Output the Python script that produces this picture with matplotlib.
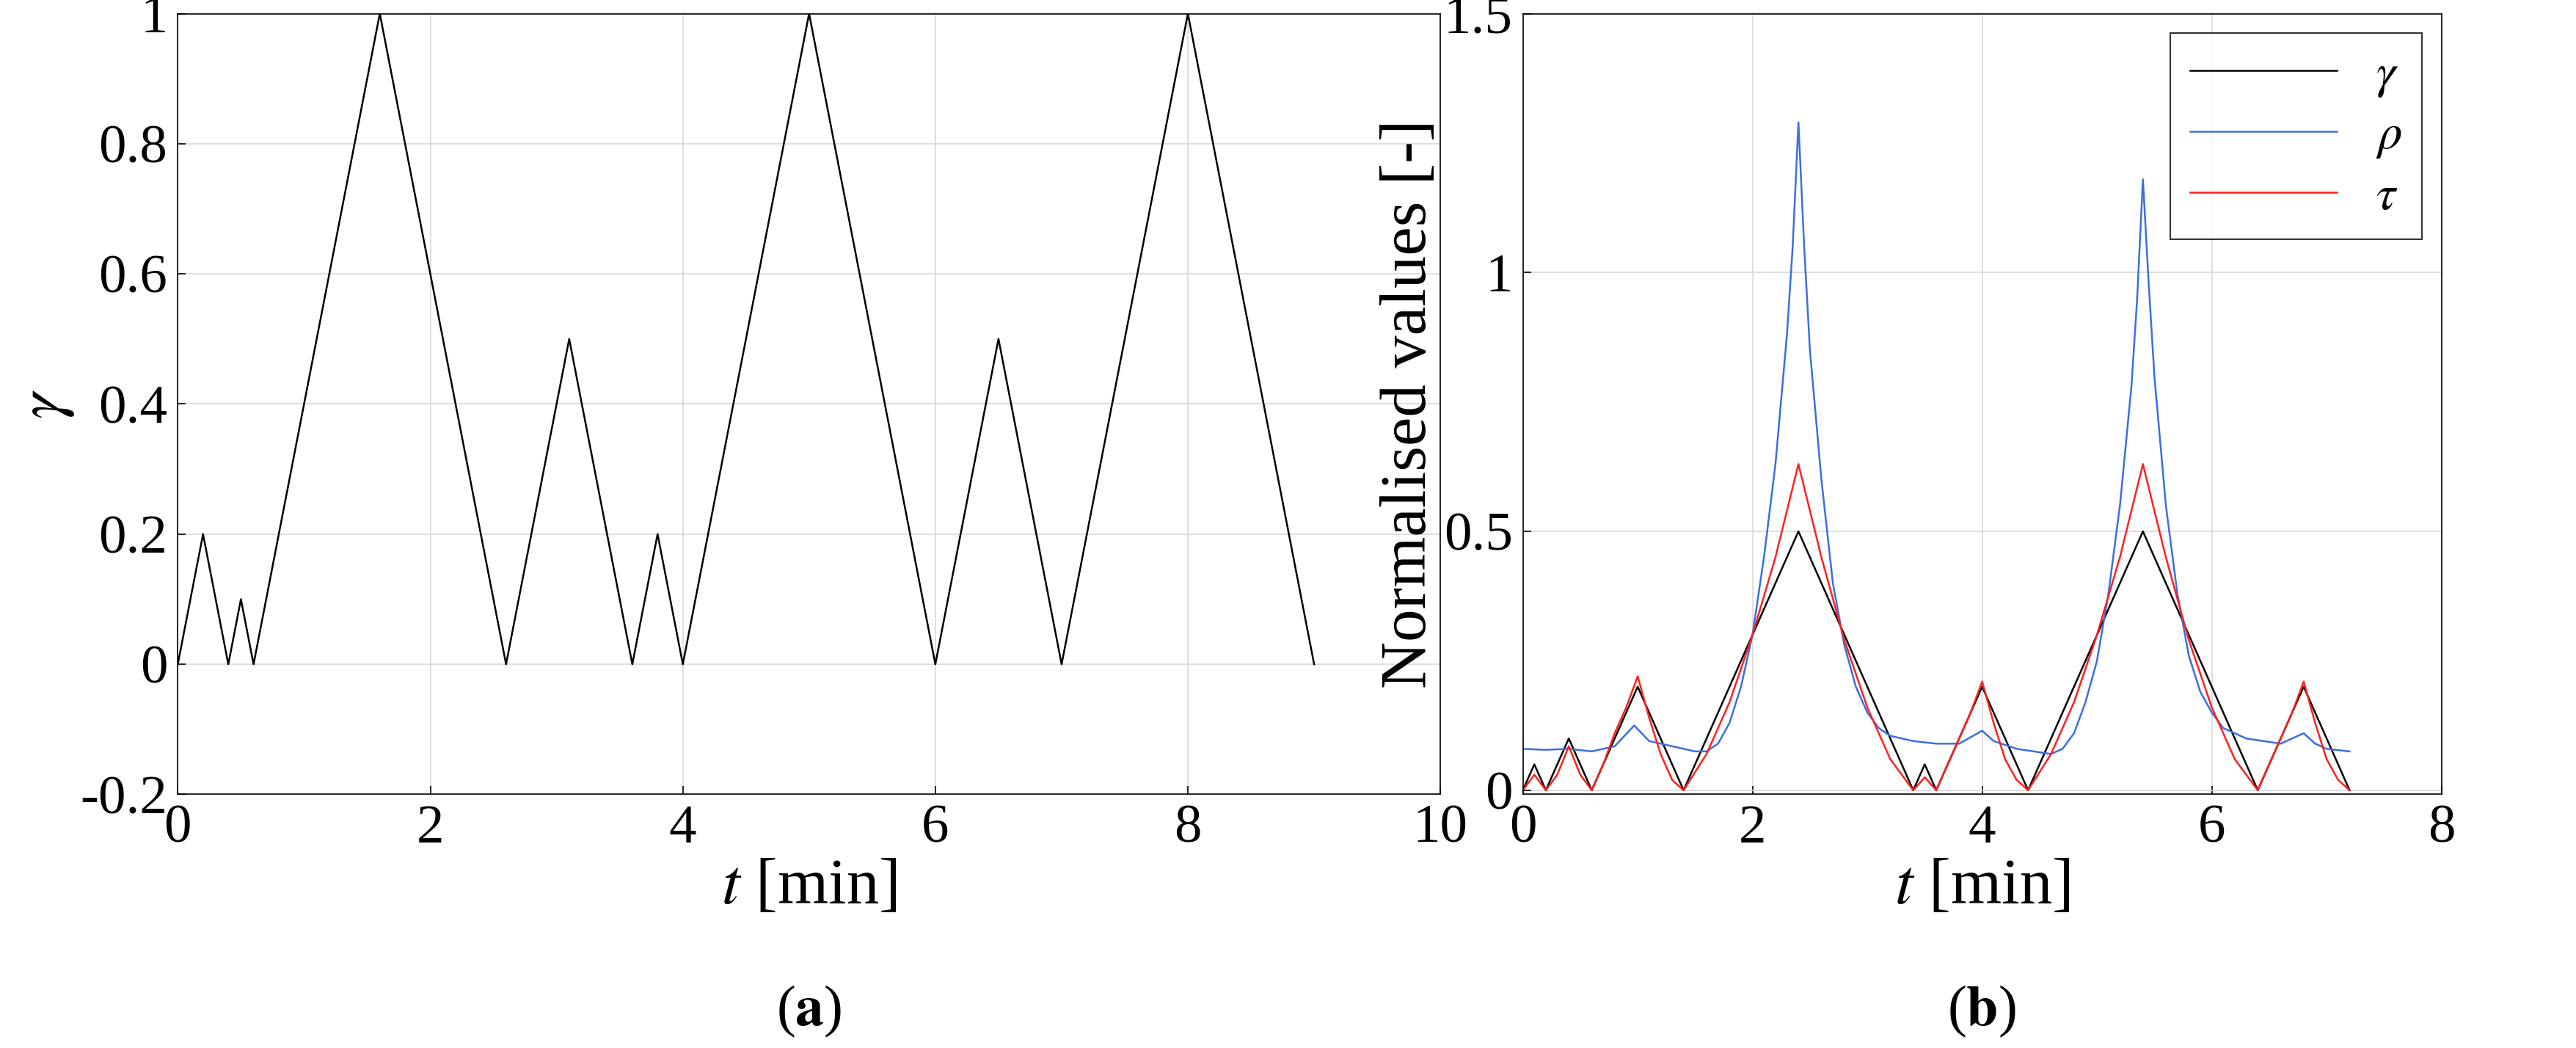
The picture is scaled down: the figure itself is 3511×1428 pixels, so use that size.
import numpy as np
import matplotlib.pyplot as plt

plt.rcParams['font.family'] = ['Liberation Serif', 'DejaVu Serif']
plt.rcParams['mathtext.fontset'] = 'stix'

# --- (a) strain history ---
t_a = [0, 0.2, 0.4, 0.5, 0.6, 1.6, 2.6, 3.1, 3.6, 3.8, 4.0, 5.0, 6.0, 6.5, 7.0, 8.0, 9.0]
gamma_a = [0, 0.2, 0, 0.1, 0, 1, 0, 0.5, 0, 0.2, 0, 1, 0, 0.5, 0, 1, 0]

# --- (b) normalised values ---
t_g = [0, 0.1, 0.2, 0.4, 0.6, 1.0, 1.4, 2.4, 3.4, 3.5, 3.6, 4.0, 4.4, 5.4, 6.4, 6.8, 7.2]
gamma_b = [0, 0.05, 0, 0.1, 0, 0.2, 0, 0.5, 0, 0.05, 0, 0.2, 0, 0.5, 0, 0.2, 0]

t_tau = [0, 0.1, 0.2, 0.3, 0.4, 0.5, 0.6, 0.7, 0.8, 0.9, 1.0, 1.1, 1.2, 1.3, 1.4,
         1.6, 1.8, 2.0, 2.2, 2.4, 2.6, 2.8, 3.0, 3.2, 3.4, 3.5, 3.6, 3.7, 3.8, 3.9, 4.0,
         4.1, 4.2, 4.3, 4.4, 4.6, 4.8, 5.0, 5.2, 5.4, 5.6, 5.8, 6.0, 6.2, 6.4,
         6.5, 6.6, 6.7, 6.8, 6.9, 7.0, 7.1, 7.2]
tau = [0, 0.03, 0, 0.03, 0.085, 0.03, 0, 0.05, 0.11, 0.16, 0.22, 0.14, 0.07, 0.02, 0,
       0.07, 0.17, 0.3, 0.45, 0.63, 0.45, 0.29, 0.16, 0.06, 0, 0.025, 0, 0.05, 0.1, 0.15, 0.21,
       0.13, 0.06, 0.02, 0, 0.07, 0.17, 0.3, 0.45, 0.63, 0.45, 0.29, 0.16, 0.06, 0,
       0.05, 0.1, 0.15, 0.21, 0.13, 0.06, 0.02, 0]

t_rho = [0, 0.2, 0.4, 0.6, 0.8, 0.97, 1.1, 1.3, 1.5, 1.6, 1.7, 1.8, 1.9, 2.0, 2.1, 2.2, 2.3, 2.35, 2.4,
         2.45, 2.5, 2.6, 2.7, 2.8, 2.9, 3.0, 3.1, 3.2, 3.4, 3.6, 3.8, 4.0, 4.1, 4.3, 4.6, 4.7, 4.8, 4.9,
         5.0, 5.1, 5.2, 5.3, 5.35, 5.4, 5.45, 5.5, 5.6, 5.7, 5.8, 5.9, 6.0, 6.1, 6.3, 6.6, 6.8, 6.9, 7.0, 7.2]
rho = [0.08, 0.078, 0.08, 0.075, 0.085, 0.125, 0.095, 0.085, 0.075, 0.075, 0.09, 0.13, 0.2, 0.3, 0.45, 0.63, 0.88, 1.05, 1.29,
       1.05, 0.85, 0.6, 0.4, 0.28, 0.2, 0.15, 0.12, 0.105, 0.095, 0.09, 0.09, 0.115, 0.095, 0.08, 0.07, 0.08, 0.11, 0.17,
       0.25, 0.38, 0.55, 0.78, 0.95, 1.18, 0.98, 0.8, 0.55, 0.38, 0.26, 0.19, 0.15, 0.12, 0.1, 0.09, 0.11, 0.09, 0.08, 0.075]

fig = plt.figure(figsize=(35.12, 14.28), dpi=100)
ax1 = fig.add_axes([0.069, 0.242, 0.49, 0.745])
ax2 = fig.add_axes([0.591, 0.242, 0.3565, 0.745])

fs = 54
lfs = 64
ax1.plot(t_a, gamma_a, color='black', lw=1.8)
ax1.set_xlim(0, 10)
ax1.set_ylim(-0.2, 1)
ax1.set_xticks([0, 2, 4, 6, 8, 10])
ax1.set_yticks([-0.2, 0, 0.2, 0.4, 0.6, 0.8, 1])
ax1.set_yticklabels(['-0.2', '0', '0.2', '0.4', '0.6', '0.8', '1'])
ax1.set_xlabel(r'$t$ [min]', fontsize=lfs)
ax1.set_ylabel(r'$\gamma$', fontsize=lfs)

ax2.plot(t_g, gamma_b, color='black', lw=1.8, label=r'$\gamma$')
ax2.plot(t_rho, rho, color='#3a6fe0', lw=1.8, label=r'$\rho$')
ax2.plot(t_tau, tau, color='#ff2020', lw=1.8, label=r'$\tau$')
ax2.set_xlim(0, 8)
ax2.set_ylim(-0.008, 1.5)
ax2.set_xticks([0, 2, 4, 6, 8])
ax2.set_yticks([0, 0.5, 1, 1.5])
ax2.set_yticklabels(['0', '0.5', '1', '1.5'])
ax2.set_xlabel(r'$t$ [min]', fontsize=lfs)
ax2.set_ylabel('Normalised values [-]', fontsize=lfs)
leg = ax2.legend(loc='upper right', fontsize=48, fancybox=False, edgecolor='black',
                 handlelength=3.0, borderaxespad=0.4, labelspacing=0.3)
leg.get_frame().set_linewidth(1.5)

for ax in (ax1, ax2):
    ax.grid(True, color='#d8d8d8', lw=1.2)
    ax.tick_params(direction='in', labelsize=fs, length=8, width=1.2, pad=10)
    for s in ax.spines.values():
        s.set_linewidth(1.2)

fig.text(0.314, 0.035, r'($\mathbf{a}$)', fontsize=56, ha='center', va='center')
fig.text(0.769, 0.035, r'($\mathbf{b}$)', fontsize=56, ha='center', va='center')

fig.savefig('out.png', dpi=100)
